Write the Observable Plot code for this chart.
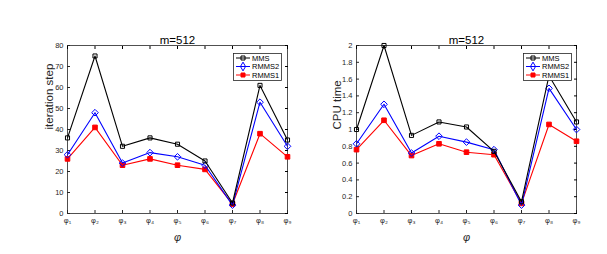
<!DOCTYPE html>
<html><head><meta charset="utf-8">
<script src="https://cdn.jsdelivr.net/npm/d3@7"></script>
<script src="https://cdn.jsdelivr.net/npm/@observablehq/plot@0.6"></script>
<style>
body{margin:0;background:#fff;width:607px;height:254px;overflow:hidden;position:relative;font-family:"Liberation Sans",Arial,sans-serif;}
.panel{position:absolute;top:0;}
.legend{position:absolute;}
</style></head><body>
<div id="p1" class="panel" style="left:0"></div>
<div id="p2" class="panel" style="left:304px"></div>
<script>
const phi = [1,2,3,4,5,6,7,8,9];
const phiLabels = ["φ₁","φ₂","φ₃","φ₄","φ₅","φ₆","φ₇","φ₈","φ₉"];
const seriesNames = ["MMS","RMMS2","RMMS1"];
const seriesColors = ["#000000","#0000ff","#ff0000"];
const seriesSymbols = ["square2","diamond2","square"];

const iterMMS   = [36, 75, 32, 36, 33, 25, 5, 61, 35];
const iterRMMS2 = [28, 48, 24, 29, 27, 23, 4, 53, 32];
const iterRMMS1 = [26, 41, 23, 26, 23, 21, 4.5, 38, 27];

const cpuMMS   = [1.00, 2.00, 0.93, 1.09, 1.03, 0.74, 0.14, 1.64, 1.09];
const cpuRMMS2 = [0.83, 1.30, 0.72, 0.92, 0.85, 0.76, 0.10, 1.49, 1.00];
const cpuRMMS1 = [0.76, 1.11, 0.69, 0.83, 0.73, 0.70, 0.12, 1.06, 0.86];

const iterTicks = [0,10,20,30,40,50,60,70,80];
const cpuTicks = [0,0.2,0.4,0.6,0.8,1,1.2,1.4,1.6,1.8,2];

function rows(arrs){
  const out=[];
  arrs.forEach((a,si)=>a.forEach((v,i)=>out.push({x:phi[i], y:v, s:seriesNames[si]})));
  return out;
}

function makePanel(el, opts){
  const data = rows(opts.series);
  const marks = [
    Plot.frame({stroke:"#262626", strokeWidth:0.8}),
    Plot.axisX({ticks: phi, tickSize:-3, tickPadding:7, tickFormat: d=>phiLabels[d-1], fontSize:7.5, color:"#262626", label:null}),
    Plot.axisX({anchor:"top", ticks: phi, tickSize:-3, tickFormat: ()=>"", label:null}),
    Plot.axisY({ticks: opts.ticks, tickSize:-3, tickPadding:7, tickFormat: opts.fmt, fontSize:7.5, color:"#262626", label:null}),
    Plot.axisY({anchor:"right", ticks: opts.ticks, tickSize:-3, tickFormat: ()=>"", label:null}),
  ];
  seriesNames.slice().reverse().forEach((name)=>{
    const si = seriesNames.indexOf(name);
    const d = data.filter(r=>r.s===name);
    marks.push(Plot.line(d, {x:"x", y:"y", stroke: seriesColors[si], strokeWidth:1.1}));
    marks.push(Plot.dot(d, {x:"x", y:"y", symbol: ()=>seriesSymbols[si], r: si===0?2.6:(si===1?3:2.6),
      stroke: seriesColors[si], fill: si===2? seriesColors[si] : "none", strokeWidth:1}));
  });
  marks.push(Plot.text(["m=512"], {frameAnchor:"top", lineAnchor:"bottom", dy:-2, fontSize:11.5, fill:"#000"}));
  marks.push(Plot.text(["φ"], {frameAnchor:"bottom", lineAnchor:"middle", dy:24, fontSize:11, fill:"#262626", fontStyle:"italic"}));
  marks.push(Plot.text([opts.ylabel], {frameAnchor:"left", dx:opts.ylabelDx, rotate:-90, fontSize:11.5, fill:"#262626"}));
  const chart = Plot.plot({
    width: 303, height: 254,
    marginLeft: opts.ml, marginRight: 303-opts.ml-220, marginTop: 45, marginBottom: 41,
    style:{fontFamily:'"Liberation Sans", Arial, sans-serif', background:"transparent", overflow:"visible"},
    x: {type:"linear", domain:[1,9]},
    y: {type:"linear", domain: opts.domain},
    symbol: {type:"identity"},
    marks
  });
  el.appendChild(chart);

  // legend
  const lx = opts.legendX, ly = 53, lw = 48, lh = 27;
  const svg = d3.select(el).append("svg").attr("class","legend")
    .style("left", (lx)+"px").style("top", ly+"px").attr("width", lw+1).attr("height", lh+1);
  svg.append("rect").attr("x",0.5).attr("y",0.5).attr("width",lw).attr("height",lh)
    .attr("fill","#fff").attr("stroke","#262626").attr("stroke-width",0.8);
  seriesNames.forEach((name,i)=>{
    const cy = 5 + i*8.5;
    const g = svg.append("g");
    g.append("line").attr("x1",3).attr("x2",17).attr("y1",cy).attr("y2",cy)
      .attr("stroke",seriesColors[i]).attr("stroke-width",1);
    const sym = d3.symbol().type(i===0?d3.symbolSquare:(i===1?d3.symbolDiamond:d3.symbolSquare)).size(i===1?22:16);
    g.append("path").attr("d",sym()).attr("transform",`translate(10,${cy})`)
      .attr("fill", i===2?seriesColors[i]:"none").attr("stroke",seriesColors[i]).attr("stroke-width",1);
    g.append("text").attr("x",19).attr("y",cy+2.5).attr("font-size",7.5)
      .attr("font-family",'"Liberation Sans", Arial, sans-serif').attr("fill","#000").text(name);
  });
}

makePanel(document.getElementById("p1"), {
  series:[iterMMS, iterRMMS2, iterRMMS1], ticks: iterTicks, fmt: d=>String(d),
  domain:[0,80], ml:67, ylabel:"iteration step", ylabelDx:-18, legendX: 233
});
makePanel(document.getElementById("p2"), {
  series:[cpuMMS, cpuRMMS2, cpuRMMS1], ticks: cpuTicks, fmt: d=>String(+d.toFixed(1)),
  domain:[0,2], ml:52, ylabel:"CPU time", ylabelDx:-19, legendX: 219
});
</script>
</body></html>
